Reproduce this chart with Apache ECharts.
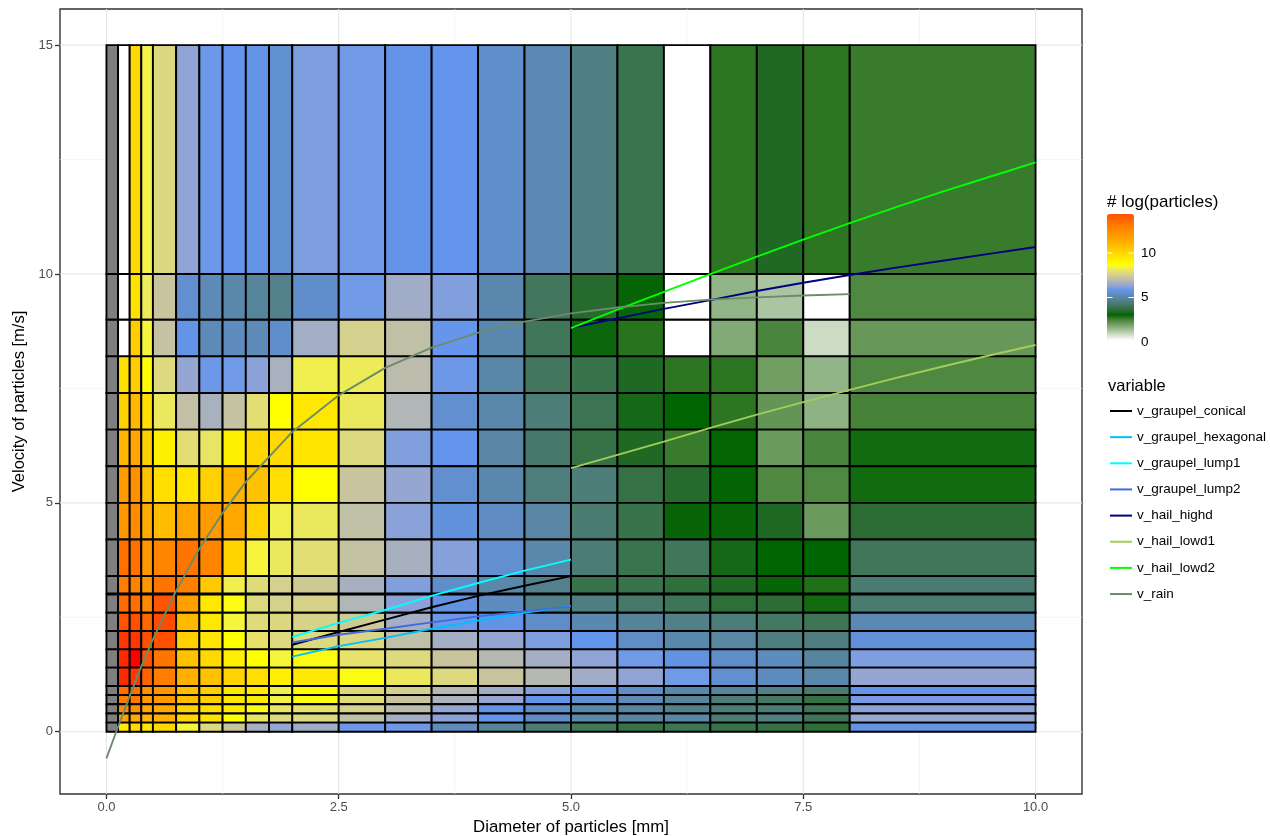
<!DOCTYPE html>
<html>
<head>
<meta charset="utf-8">
<style>html,body{margin:0;padding:0;background:#fff}#chart{width:1270px;height:836px}</style>
<script src="https://cdn.jsdelivr.net/npm/echarts@6/dist/echarts.min.js"></script>
</head>
<body>
<div id="chart"></div>
<script>
// ---------- data ----------
const diameterEdges = [0,0.125,0.25,0.375,0.5,0.75,1,1.25,1.5,1.75,2,2.5,3,3.5,4,4.5,5,5.5,6,6.5,7,7.5,8,10];
// velocity bins, top to bottom
const velocityLow  = [10,9,8.2,7.4,6.6,5.8,5,4.2,3.4,3.02,2.6,2.2,1.8,1.4,1,0.8,0.6,0.4,0.2,0];
const velocityHigh = [15,10,9,8.2,7.4,6.6,5.8,5,4.2,3.4,3,2.6,2.2,1.8,1.4,1,0.8,0.6,0.4,0.2];
// log(particles) per velocity bin (rows) and diameter bin (columns); null = no data
const logParticles = [
 [null,0,9.88,8.28,7.6,6.2,5.85,5.76,5.65,5.45,6.02,5.88,5.7,5.76,5.35,5.05,4.45,3.75,0,2.55,3.2,2.55,2.45],
 [null,0,9.62,8.12,7.15,5.4,5.1,4.95,4.75,4.55,5.35,5.88,6.45,6.05,5.0,3.95,3.3,2.95,0,1.35,1.05,0,2.2],
 [null,0,10.3,8.35,7.06,5.7,5.1,5.2,5.1,5.35,6.48,7.42,7.0,5.78,5.0,3.9,3.0,2.6,0,1.55,2.25,0.65,1.9],
 [null,9.62,10.3,8.68,7.65,6.27,5.85,5.88,6.14,6.6,8.2,8.12,6.9,5.85,4.9,3.95,3.7,3.2,2.55,2.55,1.8,1.35,2.2],
 [null,10.15,10.95,9.72,8.05,7.02,6.6,7.1,7.78,8.68,9.4,8.05,6.72,5.4,4.95,4.3,3.8,3.1,2.88,2.55,1.95,1.4,2.3],
 [null,11.0,11.45,10.15,9.15,7.78,7.98,9.15,9.95,9.88,9.5,7.65,6.05,5.75,4.85,4.1,3.6,3.2,2.45,2.85,1.85,2.25,2.75],
 [null,11.8,12.1,10.6,9.72,9.5,10.15,11.0,10.6,9.72,8.68,7.15,6.27,5.4,5.0,4.35,4.3,3.6,3.3,2.9,2.2,2.2,2.75],
 [null,11.9,12.2,11.3,10.8,11.52,11.8,11.4,10.15,8.2,8.05,7.0,6.14,5.55,5.25,4.85,4.2,3.7,2.95,2.95,3.2,1.85,3.4],
 [null,12.9,12.9,11.9,12.4,12.8,12.4,10.05,8.35,8.05,7.78,7.06,6.56,6.08,5.4,4.95,4.25,3.75,3.9,3.1,2.88,2.88,3.9],
 [null,12.6,12.5,11.9,12.8,12.5,10.4,8.2,7.7,7.42,7.28,6.56,6.05,5.35,4.95,4.55,3.7,3.7,3.5,3.2,2.95,2.65,4.2],
 [null,13,12.9,12.3,13.5,11.7,9.4,8.55,7.65,7.42,7.48,6.72,6.14,5.6,5.2,4.55,4.4,4.1,3.85,3.45,3.4,2.75,4.2],
 [null,13.5,13.6,13.1,13.7,10.85,9.4,8.35,7.7,7.6,7.48,7.28,6.5,5.85,5.65,5.3,5.0,4.7,4.5,4.3,4.0,3.85,5.05],
 [null,14,14,13.6,13.6,10.2,9.5,8.68,7.9,7.65,7.65,7.6,7.0,6.5,6.27,6.02,5.76,5.3,4.95,4.85,4.4,4.4,5.5],
 [null,14.1,14.4,13.5,12.8,10.6,9.88,9.15,8.68,8.35,8.55,7.9,7.65,7.15,6.8,6.5,6.2,5.88,5.6,5.3,5.2,4.8,6.02],
 [null,14.1,14,13.2,12.6,11.2,10.6,10.05,9.72,9.15,9.35,8.55,8.05,7.65,7.15,6.8,6.45,6.2,5.88,5.4,5.2,4.95,6.27],
 [null,12.9,12.9,12,11.9,10.7,10.2,9.4,9.3,8.2,8.68,7.6,7.42,6.8,6.45,6.08,5.7,5.3,4.9,4.8,4.5,4.2,5.7],
 [null,12.6,12.7,11.8,11.9,10.8,10.2,9.4,9.3,8.28,8.55,7.7,7.15,6.65,6.27,5.7,5.4,5.1,4.75,4.3,4.0,3.6,5.95],
 [null,12.3,12.1,11.45,11.4,10.15,9.72,9.3,8.55,7.98,7.9,7.48,6.9,6.27,5.7,5.35,4.95,4.8,4.55,4.3,4.25,3.85,6.14],
 [null,11.7,11.4,10.95,11.2,10.05,9.62,8.68,7.98,7.65,7.65,7.0,6.5,6.14,5.7,5.3,4.95,4.8,4.85,4.25,4.45,3.85,6.27],
 [null,9.35,9.88,9.5,9.88,8.35,7.65,7.15,6.56,6.27,6.45,5.85,5.85,5.2,4.7,4.25,3.9,3.65,3.85,3.65,3.6,3.45,5.65]
];
// fall-speed curves
const rainD = [0,0.125,0.25,0.375,0.5,0.75,1,1.25,1.5,2,2.5,3,3.5,4,4.5,5,5.5,6,6.5,7,7.5,8];
const vRain = [-0.58,0.11,0.78,1.43,2.02,3.08,4.0,4.78,5.46,6.55,7.35,7.95,8.39,8.72,8.96,9.14,9.27,9.37,9.44,9.49,9.53,9.56];
const graupelD = [2,2.5,3,3.5,4,4.5,5];
const vConical = [1.9,2.18,2.45,2.72,2.97,3.19,3.4];
const vHexagonal = [1.64,1.87,2.05,2.25,2.43,2.6,2.75];
const vLump1 = [2.07,2.38,2.66,2.97,3.25,3.52,3.76];
const vLump2 = [1.95,2.12,2.25,2.39,2.52,2.63,2.74];
const hailD = [5,5.5,6,6.5,7,7.5,8,8.5,9,9.5,10];
const vHighd = [8.82,9.03,9.24,9.43,9.63,9.81,9.98,10.14,10.29,10.44,10.59];
const vLowd1 = [5.76,6.05,6.34,6.64,6.93,7.2,7.47,7.73,7.98,8.22,8.45];
const vLowd2 = [8.82,9.22,9.61,10.0,10.38,10.75,11.11,11.46,11.8,12.12,12.44];
const xMajor = [0,2.5,5,7.5,10];
const xMinor = [1.25,3.75,6.25,8.75];
const yMajor = [0,5,10,15];
const yMinor = [2.5,7.5,12.5];
const scaleAnchors = ['#ffffff','#006400','#6495ed','#ffff00','#ffa500','#ff0000'];
const legendAnchors = ['#ffffff','#006400','#6495ed','#ffff00','#ffa500','#ff5000'];
const legendTicks = [0,5,10];
const lineSeries = [
  ['v_graupel_conical', graupelD, vConical, '#000000'],
  ['v_graupel_hexagonal', graupelD, vHexagonal, '#00bfff'],
  ['v_graupel_lump1', graupelD, vLump1, '#00ffff'],
  ['v_graupel_lump2', graupelD, vLump2, '#4169e1'],
  ['v_hail_highd', hailD, vHighd, '#000080'],
  ['v_hail_lowd1', hailD, vLowd1, '#a2cd5a'],
  ['v_hail_lowd2', hailD, vLowd2, '#00ff00'],
  ['v_rain', rainD, vRain, '#6b8b6b']
];

// ---------- Lab colour ramp (the original scale interpolates in Lab) ----------
function toLab(hex){
  const c=[1,3,5].map(i=>parseInt(hex.substr(i,2),16)/255).map(v=>v<=0.04045?v/12.92:Math.pow((v+0.055)/1.055,2.4));
  const X=(0.4124*c[0]+0.3576*c[1]+0.1805*c[2])/0.95047,Y=0.2126*c[0]+0.7152*c[1]+0.0722*c[2],Z=(0.0193*c[0]+0.1192*c[1]+0.9505*c[2])/1.08883;
  const f=t=>t>0.008856?Math.cbrt(t):7.787*t+16/116;
  return [116*f(Y)-16,500*(f(X)-f(Y)),200*(f(Y)-f(Z))];
}
function fromLab(l){
  const fy=(l[0]+16)/116,fx=l[1]/500+fy,fz=fy-l[2]/200;
  const g=t=>t*t*t>0.008856?t*t*t:(t-16/116)/7.787;
  const X=g(fx)*0.95047,Y=g(fy),Z=g(fz)*1.08883;
  const r=[3.2406*X-1.5372*Y-0.4986*Z,-0.9689*X+1.8758*Y+0.0415*Z,0.0557*X-0.2040*Y+1.0570*Z];
  return 'rgb('+r.map(v=>{v=v<=0.0031308?12.92*v:1.055*Math.pow(v,1/2.4)-0.055;return Math.round(Math.min(1,Math.max(0,v))*255);}).join(',')+')';
}
function ramp(anchors,steps){
  const out=[];
  for(let i=0;i<anchors.length-1;i++){
    const a=toLab(anchors[i]),b=toLab(anchors[i+1]);
    for(let s=0;s<steps;s++){const t=s/steps;out.push(fromLab(a.map((v,k)=>v+(b[k]-v)*t)));}
  }
  out.push(fromLab(toLab(anchors[anchors.length-1])));
  return out;
}

// ---------- build ----------
const cellData=[];
logParticles.forEach((row,r)=>row.forEach((v,c)=>{
  cellData.push([diameterEdges[c],diameterEdges[c+1],velocityLow[r],velocityHigh[r],v===null?NaN:v]);
}));
const gridData=[];
xMinor.forEach(v=>gridData.push([0,v,0]));
yMinor.forEach(v=>gridData.push([1,v,0]));
xMajor.forEach(v=>gridData.push([0,v,1]));
yMajor.forEach(v=>gridData.push([1,v,1]));

const xMin=-0.5,xMax=10.5,yMin=-1.36,yMax=15.79;
const font='"Liberation Sans", Arial, sans-serif';
const series=[
  {type:'custom',name:'gridlines',silent:true,z:1,clip:true,data:gridData,
   encode:{x:1},
   renderItem:function(p,api){
     const isY=api.value(0),v=api.value(1),maj=api.value(2);
     const a=isY?api.coord([xMin,v]):api.coord([v,yMin]);
     const b=isY?api.coord([xMax,v]):api.coord([v,yMax]);
     return {type:'line',shape:{x1:a[0],y1:a[1],x2:b[0],y2:b[1]},style:{stroke:maj?'#e6e6e6':'#f0f0f0',lineWidth:maj?1.1:0.7}};
   }},
  {type:'custom',name:'cells',silent:true,z:2,clip:false,data:cellData,
   encode:{x:[0,1],y:[2,3]},
   renderItem:function(p,api){
     const a=api.coord([api.value(0),api.value(3)]),b=api.coord([api.value(1),api.value(2)]);
     const v=api.value(4);
     return {type:'rect',shape:{x:a[0],y:a[1],width:b[0]-a[0],height:b[1]-a[1]},
       style:{fill:isNaN(v)?'#7f7f7f':api.visual('color'),stroke:'#000',lineWidth:1.9}};
   }}
];
lineSeries.forEach(s=>series.push({
  type:'line',name:s[0],data:s[1].map((d,i)=>[d,s[2][i]]),showSymbol:false,symbol:'none',smooth:false,silent:true,z:3,
  lineStyle:{color:s[3],width:1.9},itemStyle:{color:s[3]},clip:true
}));

// legend graphics
const barTop=214,barH=126,barL=1107,barW=27;
const tickY=v=>342-v*8.9;
const graphics=[
  {type:'text',left:1107,top:194,z:10,style:{text:'# log(particles)',font:'17px '+font,fill:'#000'}},
  {type:'text',left:1108,top:378,z:10,style:{text:'variable',font:'16.5px '+font,fill:'#000'}}
];
legendTicks.forEach(v=>{
  const y=tickY(v);
  graphics.push({type:'text',left:1141,top:y-7,z:10,style:{text:String(v),font:'13.5px '+font,fill:'#000'}});
  if(v>0){
    graphics.push({type:'line',z:10,shape:{x1:barL,y1:y,x2:barL+5.5,y2:y},style:{stroke:'#fff',lineWidth:1}});
    graphics.push({type:'line',z:10,shape:{x1:barL+barW-5.5,y1:y,x2:barL+barW,y2:y},style:{stroke:'#fff',lineWidth:1}});
  }
});

const chart=echarts.init(document.getElementById('chart'),null,{renderer:'canvas'});
chart.setOption({
  animation:false,
  backgroundColor:'#fff',
  textStyle:{fontFamily:font},
  grid:{left:60,right:188,top:9,height:785,show:true,backgroundColor:'#fff',borderColor:'#333',borderWidth:1.4,containLabel:false,outerBoundsMode:'none'},
  xAxis:{type:'value',min:xMin,max:xMax,splitLine:{show:false},
    axisLine:{show:false,onZero:false},
    axisTick:{show:true,length:5,lineStyle:{color:'#333',width:1.3},customValues:xMajor},
    axisLabel:{color:'#4d4d4d',fontSize:13,margin:7,customValues:xMajor,formatter:v=>v.toFixed(1)},
    name:'Diameter of particles [mm]',nameLocation:'middle',nameGap:24,nameTextStyle:{fontSize:16.8,color:'#000',fontFamily:font}},
  yAxis:{type:'value',min:yMin,max:yMax,splitLine:{show:false},
    axisLine:{show:false,onZero:false},
    axisTick:{show:true,length:5,lineStyle:{color:'#333',width:1.3},customValues:yMajor},
    axisLabel:{color:'#4d4d4d',fontSize:13,margin:7,customValues:yMajor},
    name:'Velocity of particles [m/s]',nameLocation:'middle',nameGap:29,nameTextStyle:{fontSize:16.5,color:'#000',fontFamily:font}},
  visualMap:[
    {type:'continuous',show:false,seriesIndex:1,dimension:4,min:0,max:14.4,inRange:{color:ramp(scaleAnchors,8)},calculable:false},
    {type:'continuous',show:true,seriesIndex:[],min:0,max:14.4,left:barL,top:barTop,itemWidth:barW,itemHeight:barH,calculable:false,hoverLink:false,
     inRange:{color:ramp(legendAnchors,8)},text:null,padding:0}
  ],
  legend:{orient:'vertical',left:1110,top:404,padding:0,icon:'rect',itemWidth:22,itemHeight:2,itemGap:12.15,
    data:lineSeries.map(s=>s[0]),selectedMode:false,
    textStyle:{fontSize:13.5,color:'#000',fontFamily:font}},
  graphic:graphics,
  series:series
});
</script>
</body>
</html>
